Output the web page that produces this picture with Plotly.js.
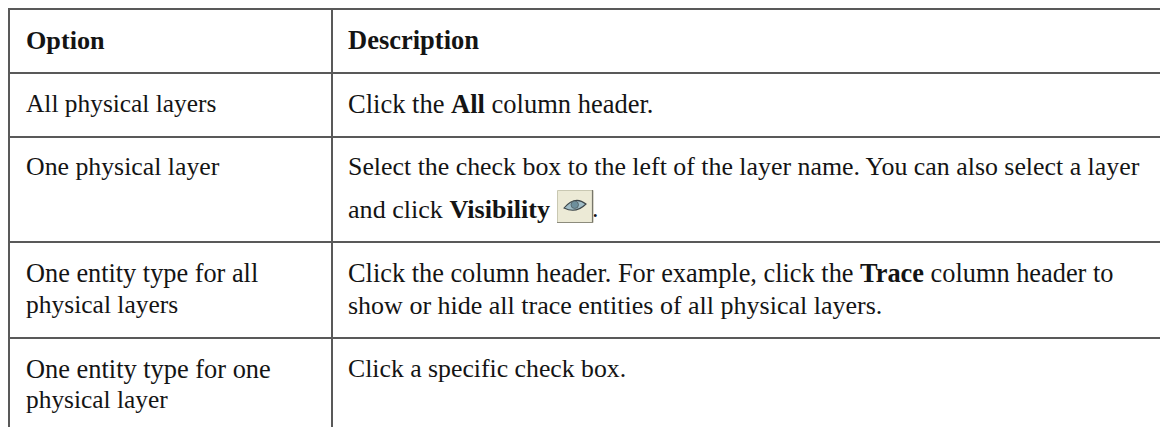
<!DOCTYPE html>
<html>
<head>
<meta charset="utf-8">
<script src="https://cdn.plot.ly/plotly-3.0.1.min.js"></script>
<style>html,body{margin:0;padding:0;background:#fff;overflow:hidden}</style>
</head>
<body>
<div id="chart" style="width:1160px;height:427px"></div>
<script>
// Table content
const headers = ["<b>Option</b>", "<b>Description</b>"];
const optionLines = [
  ["All physical layers"],
  ["One physical layer"],
  ["One entity type for all", "physical layers"],
  ["One entity type for one", "physical layer"]
];
const descriptionLines = [
  ["Click the <b>All</b> column header."],
  ["Select the check box to the left of the layer name. You can also select a layer", "and click <b>Visibility</b>"],
  ["Click the column header. For example, click the <b>Trace</b> column header to", "show or hide all trace entities of all physical layers."],
  ["Click a specific check box."]
];
const iconSuffix = ".";

// Layout geometry (pixels; the axes map 1:1 onto the page)
const W = 1160, H = 427;
const rowLines = [9, 73, 137, 242, 338];
const colLines = [9, 332];
const textX = [26, 348];
const headerBase = 48;
const baselines = [
  [112],
  [175, 217],
  [281, 313],
  [377, 408]
];
// Per-line sizes fit each line's width to the reference's wider typeface
const headerSizes = [26.2, 26.5];
const optionSizes = [[25.4], [25.8], [26.3, 25.5], [26.4, 25.4]];
const descriptionSizes = [[26.5], [25.86, 26.1], [26.35, 26], [25.75]];
const baseToMiddle = 6;
const lineColor = "#595959", textColor = "#141414";
const fontFamily = '"Liberation Serif", serif';

const traces = [];
rowLines.forEach((y) => traces.push({
  x: [colLines[0] - 1, W], y: [y, y], mode: "lines", hoverinfo: "skip",
  line: {color: lineColor, width: 2}
}));
colLines.forEach((x) => traces.push({
  x: [x, x], y: [rowLines[0], H], mode: "lines", hoverinfo: "skip",
  line: {color: lineColor, width: 2}
}));

const tx = [], ty = [], tt = [], ts = [];
function add(x, base, s, size) { tx.push(x); ty.push(base - baseToMiddle); tt.push(s); ts.push(size); }
headers.forEach((h, c) => add(textX[c], headerBase, h, headerSizes[c]));
optionLines.forEach((lines, r) => lines.forEach((s, l) => add(textX[0], baselines[r][l], s, optionSizes[r][l])));
descriptionLines.forEach((lines, r) => lines.forEach((s, l) => add(textX[1], baselines[r][l], s, descriptionSizes[r][l])));
add(592, baselines[1][1], iconSuffix, 25.7);
traces.push({
  x: tx, y: ty, text: tt, mode: "text", textposition: "middle right", hoverinfo: "skip",
  textfont: {family: fontFamily, size: ts, color: textColor}
});

const layout = {
  width: W, height: H, margin: {l: 0, r: 0, t: 0, b: 0},
  paper_bgcolor: "#fff", plot_bgcolor: "#fff", showlegend: false,
  xaxis: {range: [0, W], visible: false, fixedrange: true},
  yaxis: {range: [H, 0], visible: false, fixedrange: true},
  shapes: [
    {type: "rect", x0: 557.5, x1: 593, y0: 190.5, y1: 222.5, fillcolor: "#ecead6", line: {color: "#c9c8b2", width: 1}},
    {type: "line", x0: 592.5, x1: 592.5, y0: 190, y1: 223, line: {color: "#77766a", width: 1.2}},
    {type: "line", x0: 557, x1: 593, y0: 222.5, y1: 222.5, line: {color: "#8c8b7c", width: 1.2}},
    {type: "path", path: "M 564 208 Q 575 195 586 204 Q 576 214 564 208 Z", fillcolor: "#9fbcc6", line: {color: "#3c4548", width: 1.1}},
    {type: "circle", x0: 571, x1: 578.5, y0: 201, y1: 208.5, fillcolor: "#6d8f9c", line: {color: "#4c5558", width: 0.7}}
  ]
};
Plotly.newPlot("chart", traces, layout, {displayModeBar: false, staticPlot: true});
</script>
</body>
</html>
